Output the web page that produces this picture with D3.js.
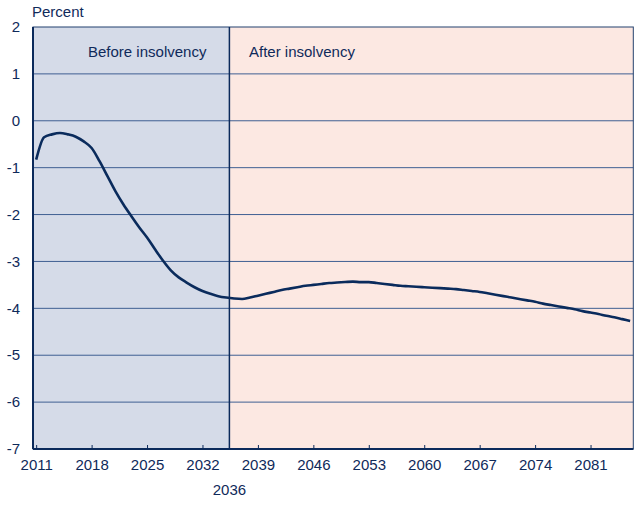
<!DOCTYPE html>
<html><head><meta charset="utf-8">
<script src="https://cdn.jsdelivr.net/npm/d3@7"></script>
<style>body{margin:0;background:#fff}svg{display:block}text{font-family:"Liberation Sans",Arial,sans-serif;fill:#0f2a5a}</style>
</head><body>
<script>
const years = d3.range(2011, 2087);
const values = [-0.83,-0.35,-0.29,-0.26,-0.29,-0.34,-0.44,-0.58,-0.86,-1.18,
-1.50,-1.78,-2.03,-2.27,-2.49,-2.74,-2.98,-3.19,-3.34,-3.45,
-3.55,-3.63,-3.69,-3.74,-3.77,-3.79,-3.80,-3.77,-3.73,-3.69,
-3.65,-3.61,-3.58,-3.55,-3.52,-3.50,-3.48,-3.46,-3.45,-3.44,
-3.43,-3.44,-3.44,-3.46,-3.48,-3.50,-3.52,-3.53,-3.54,-3.55,
-3.56,-3.57,-3.58,-3.59,-3.61,-3.63,-3.65,-3.68,-3.71,-3.74,
-3.77,-3.80,-3.83,-3.86,-3.90,-3.93,-3.96,-3.99,-4.02,-4.06,
-4.09,-4.12,-4.16,-4.19,-4.23,-4.27];
const xTicks = [2011,2018,2025,2032,2039,2046,2053,2060,2067,2074,2081];
const yTicks = [2,1,0,-1,-2,-3,-4,-5,-6,-7];
const insolvencyYear = 2035.4;
const insolvencyLabel = "2036";
const regionLabels = ["Before insolvency","After insolvency"];
const yTitle = "Percent";

const W=638,H=508,FS=15;
const x = d3.scaleLinear().domain([2010.6,2086.4]).range([33,633.3]);
const y = d3.scaleLinear().domain([-7,2]).range([449,27]);
const svg = d3.select("body").append("svg").attr("width",W).attr("height",H);

// regions
svg.append("rect").attr("x",x.range()[0]).attr("y",y(2)).attr("width",x(insolvencyYear)-x.range()[0]).attr("height",y(-7)-y(2)).attr("fill","#d5dbe8");
svg.append("rect").attr("x",x(insolvencyYear)).attr("y",y(2)).attr("width",x.range()[1]-x(insolvencyYear)).attr("height",y(-7)-y(2)).attr("fill","#fce8e2");

// gridlines
svg.append("g").selectAll("line").data(yTicks.filter(d=>d>-7&&d<2)).join("line")
 .attr("x1",x.range()[0]).attr("x2",x.range()[1]).attr("y1",d=>y(d)).attr("y2",d=>y(d))
 .attr("stroke","#3f5f92").attr("stroke-width",1);

// y labels
svg.append("g").selectAll("text").data(yTicks).join("text")
 .attr("x",20).attr("y",d=>y(d)).attr("dy","0.35em").attr("text-anchor","end")
 .attr("font-size",FS).text(d=>d);
svg.append("text").attr("x",32).attr("y",17).attr("font-size",FS).text(yTitle);

// borders
svg.append("rect").attr("x",x.range()[0]).attr("y",y(2)).attr("width",x.range()[1]-x.range()[0]).attr("height",y(-7)-y(2))
 .attr("fill","none").attr("stroke","#23416f").attr("stroke-width",1);
svg.append("line").attr("x1",x.range()[0]).attr("x2",x.range()[0]).attr("y1",y(2)).attr("y2",y(-7)).attr("stroke","#0b2a5b").attr("stroke-width",2);
svg.append("line").attr("x1",x(insolvencyYear)).attr("x2",x(insolvencyYear)).attr("y1",y(2)).attr("y2",y(-7)).attr("stroke","#0b2a5b").attr("stroke-width",1.5);

// x axis
const xa = d3.axisBottom(x).tickValues(xTicks).tickSize(-4).tickPadding(10).tickFormat(d3.format("d"));
const gx = svg.append("g").attr("transform",`translate(0,${y(-7)})`).call(xa);
gx.select(".domain").attr("stroke","#0b2a5b").attr("stroke-width",2).attr("d",`M${x.range()[0]},0H${x.range()[1]}`);
gx.selectAll(".tick line").attr("stroke","#0b2a5b");
gx.selectAll(".tick text").attr("font-size",FS).attr("font-family","Liberation Sans, Arial, sans-serif").attr("fill","#0f2a5a");
svg.append("text").attr("x",x(insolvencyYear)).attr("y",495).attr("text-anchor","middle").attr("font-size",FS).text(insolvencyLabel);

// region labels
svg.append("text").attr("x",88).attr("y",57).attr("font-size",FS).text(regionLabels[0]);
svg.append("text").attr("x",249).attr("y",57).attr("font-size",FS).text(regionLabels[1]);

// line
const line = d3.line().x((d,i)=>x(years[i])).y(d=>y(d)).curve(d3.curveMonotoneX);
svg.append("path").datum(values).attr("d",line).attr("fill","none").attr("stroke","#0a2b5c").attr("stroke-width",2.6).attr("stroke-linejoin","round");
</script>
</body></html>
